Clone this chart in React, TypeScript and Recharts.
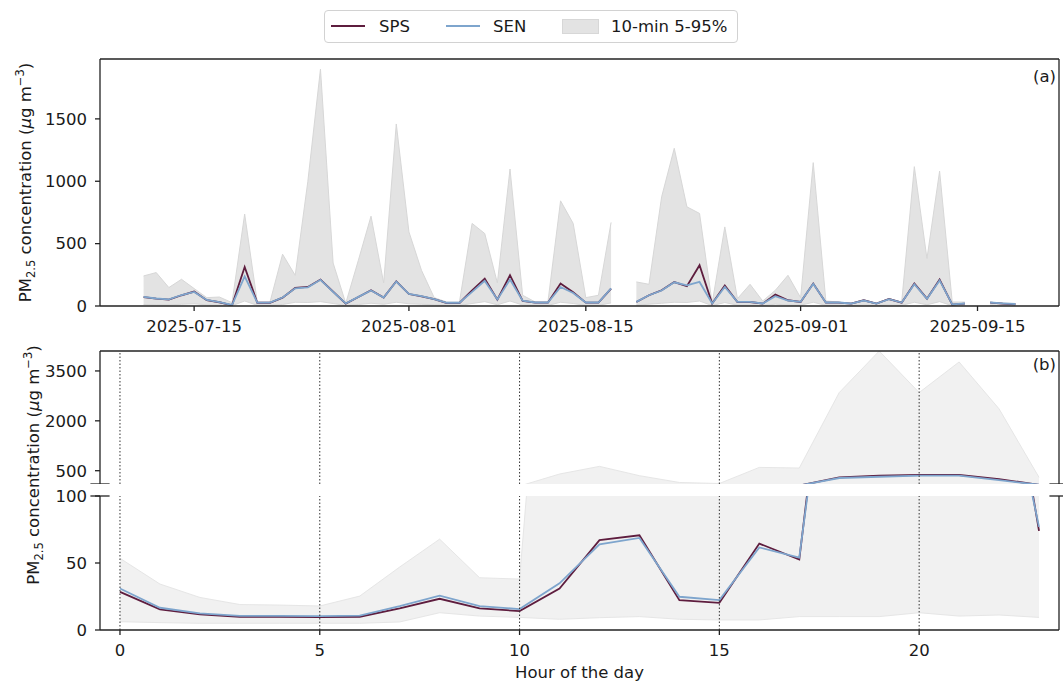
import React from "react";
import { Area, ComposedChart, Line, ReferenceLine, XAxis, YAxis } from "recharts";

// (a) daily means, 2025-07-11 .. 2025-09-18; null = no data that day
const DATES = [
  "2025-07-11", "2025-07-12", "2025-07-13", "2025-07-14", "2025-07-15", "2025-07-16", "2025-07-17",
  "2025-07-18", "2025-07-19", "2025-07-20", "2025-07-21", "2025-07-22", "2025-07-23", "2025-07-24",
  "2025-07-25", "2025-07-26", "2025-07-27", "2025-07-28", "2025-07-29", "2025-07-30", "2025-07-31",
  "2025-08-01", "2025-08-02", "2025-08-03", "2025-08-04", "2025-08-05", "2025-08-06", "2025-08-07",
  "2025-08-08", "2025-08-09", "2025-08-10", "2025-08-11", "2025-08-12", "2025-08-13", "2025-08-14",
  "2025-08-15", "2025-08-16", "2025-08-17", "2025-08-18", "2025-08-19", "2025-08-20", "2025-08-21",
  "2025-08-22", "2025-08-23", "2025-08-24", "2025-08-25", "2025-08-26", "2025-08-27", "2025-08-28",
  "2025-08-29", "2025-08-30", "2025-08-31", "2025-09-01", "2025-09-02", "2025-09-03", "2025-09-04",
  "2025-09-05", "2025-09-06", "2025-09-07", "2025-09-08", "2025-09-09", "2025-09-10", "2025-09-11",
  "2025-09-12", "2025-09-13", "2025-09-14", "2025-09-15", "2025-09-16", "2025-09-17", "2025-09-18",
];
const SPS_DAILY = [
  72, 59, 51, 86, 116, 46, 30, 6, 313, 26, 26, 67, 145, 153, 212, 115, 19, 72, 126, 67, 198,
  96, 78, 55, 24, 24, 126, 220, 51, 247, 40, 27, 27, 180, 110, 27, 27, 140, null, 32, 86, 126,
  192, 158, 327, 19, 164, 32, 32, 19, 92, 46,
  32, 180, 27, 27, 19, 46, 19, 56, 27, 180, 59, 212, 11, 19, null, 27, 19, 14,
];
const SEN_DAILY = [
  74, 60, 53, 88, 113, 48, 31, 8, 238, 27, 27, 68, 142, 150, 210, 114, 20, 73, 124, 68, 196,
  97, 80, 56, 26, 26, 113, 201, 53, 212, 42, 28, 28, 152, 104, 28, 28, 141, null, 33, 86, 124,
  190, 165, 193, 20, 153, 33, 33, 20, 78, 44,
  33, 178, 28, 28, 20, 44, 20, 55, 28, 175, 58, 205, 13, 20, null, 28, 21, 16,
];
const P05_DAILY = [
  12, 10, 9, 14, 18, 9, 6, 2, 40, 5, 5, 12, 30, 28, 35, 20, 4, 12, 22, 14, 30,
  18, 14, 10, 5, 5, 20, 35, 10, 40, 8, 5, 5, 30, 20, 5, 5, 25, null, 6, 15, 22,
  30, 28, 40, 3, 28, 6, 6, 3, 15, 8,
  6, 30, 5, 5, 3, 8, 3, 10, 5, 30, 10, 35, 2, 4, null, 5, 4, 3,
];
const P95_DAILY = [
  241, 268, 148, 214, 140, 67, 72, 27, 737, 30, 30, 415, 246, 1000, 1899, 345, 22, 367, 720, 185, 1459,
  594, 285, 67, 32, 32, 662, 581, 185, 1098, 86, 32, 32, 843, 662, 67, 86, 670, null, 193, 174, 875,
  1264, 795, 742, 22, 634, 59, 174, 40, 126, 246,
  67, 1149, 40, 32, 22, 50, 22, 60, 32, 1117, 380, 1082, 32, 32, null, 30, 24, 18,
];
const DATE_TICKS = ["2025-07-15", "2025-08-01", "2025-08-15", "2025-09-01", "2025-09-15"];
const DAILY_Y_TICKS = [0, 500, 1000, 1500];

// (b) mean diurnal cycle
const HOURS = [0, 1, 2, 3, 4, 5, 6, 7, 8, 9, 10, 11, 12, 13, 14, 15, 16, 17, 18, 19, 20, 21, 22, 23];
const SPS_HOURLY = [28.5, 15.4, 11.7, 9.9, 9.8, 9.7, 9.9, 16.1, 23.3, 16.1, 14.1, 31, 67, 70.7, 22.3, 20.3, 64.5, 52.6, 300, 349, 370, 370, 249, 74];
const SEN_HOURLY = [31, 16.6, 12.4, 10.6, 10.5, 10.3, 10.8, 17.8, 25.6, 17.8, 15.6, 34.8, 64, 68.7, 24.8, 22.3, 61.6, 54.1, 280, 318, 349, 349, 218, 77];
const P05_HOURLY = [6.2, 5.5, 5, 5, 5, 5, 5, 6, 12.9, 10.4, 9.4, 8, 9.2, 10, 8, 7.5, 7.5, 10, 10, 10, 12.9, 10.4, 11.2, 9.4];
const P95_HOURLY = [53.5, 34.3, 24.3, 19, 18.6, 17.9, 25.3, 47, 67.8, 39, 38, 400, 630, 350, 146, 115, 600, 580, 2850, 4100, 2850, 3770, 2360, 300];
const HOUR_TICKS = [0, 5, 10, 15, 20];
const UPPER_Y_TICKS = [500, 2000, 3500];
const LOWER_Y_TICKS = [0, 50, 100];

const SPS_COLOR = "#5e1d3e";
const SEN_COLOR = "#7ea5cd";
const INK = "#1a1a1a";
const FONT = "'DejaVu Sans', sans-serif";
const TICK = { fill: INK, fontSize: 16.5, fontFamily: FONT };
const SPINE = { stroke: "#222", strokeWidth: 1.3 };

const daily = DATES.map((d, i) => ({
  t: Date.parse(d),
  sps: SPS_DAILY[i],
  sen: SEN_DAILY[i],
  band: P05_DAILY[i] == null ? [null, null] : [P05_DAILY[i], P95_DAILY[i]],
}));
const hourly = HOURS.map((h, i) => ({
  h,
  sps: SPS_HOURLY[i],
  sen: SEN_HOURLY[i],
  band: [P05_HOURLY[i], P95_HOURLY[i]],
}));

// matplotlib-style 5% margins on the date axis
const T0 = Date.parse(DATES[0]);
const T1 = Date.parse(DATES[DATES.length - 1]);
const X_MIN = T0 - (T1 - T0) * 0.05;
const X_MAX = T1 + (T1 - T0) * 0.05;
const H_MIN = -0.5;
const H_MAX = 23.5;
const BREAK_W = 0.24; // half-width of the broken-axis marks, in hours

const fmtDate = (v: number) => new Date(v).toISOString().slice(0, 10);

function DailyPanel() {
  return (
    <ComposedChart width={1063} height={340} data={daily} margin={{ top: 59, right: 4, bottom: 0, left: 0 }}>
      <XAxis
        dataKey="t"
        type="number"
        domain={[X_MIN, X_MAX]}
        allowDataOverflow
        ticks={DATE_TICKS.map((d) => Date.parse(d))}
        interval={0}
        tickFormatter={fmtDate}
        tick={TICK}
        tickSize={5}
        tickMargin={9}
        tickLine={SPINE}
        axisLine={SPINE}
        height={34}
      />
      <YAxis
        type="number"
        domain={[0, 1980]}
        allowDataOverflow
        ticks={DAILY_Y_TICKS}
        interval={0}
        tick={TICK}
        tickSize={5}
        tickMargin={8}
        tickLine={SPINE}
        axisLine={SPINE}
        width={100}
      />
      <Area
        dataKey="band"
        type="linear"
        fill="#e3e3e3"
        fillOpacity={1}
        stroke="#d7d7d7"
        strokeWidth={1}
        dot={false}
        activeDot={false}
        isAnimationActive={false}
      />
      <Line dataKey="sps" type="linear" stroke={SPS_COLOR} strokeWidth={1.8} dot={false} isAnimationActive={false} />
      <Line dataKey="sen" type="linear" stroke={SEN_COLOR} strokeWidth={1.8} dot={false} isAnimationActive={false} />
      <ReferenceLine y={1980} stroke={SPINE.stroke} strokeWidth={SPINE.strokeWidth} ifOverflow="visible" />
      <ReferenceLine x={X_MAX} stroke={SPINE.stroke} strokeWidth={SPINE.strokeWidth} ifOverflow="visible" />
    </ComposedChart>
  );
}

// the diurnal panel is drawn twice, as a broken y axis: 100..4100 on top, 0..100 below
function HourlyPanel({ part }: { part: "upper" | "lower" }) {
  const upper = part === "upper";
  const yDomain = upper ? [100, 4100] : [0, 100];
  const breakY = 100;
  return (
    <ComposedChart
      width={1063}
      height={upper ? 144 : 204}
      data={hourly}
      margin={{ top: upper ? 11 : 16, right: 4, bottom: 0, left: 0 }}
    >
      <XAxis
        dataKey="h"
        type="number"
        domain={[H_MIN, H_MAX]}
        allowDataOverflow
        ticks={HOUR_TICKS}
        interval={0}
        hide={upper}
        tick={TICK}
        tickSize={5}
        tickMargin={9}
        tickLine={SPINE}
        axisLine={SPINE}
        height={54}
        label={
          upper
            ? undefined
            : { value: "Hour of the day", position: "insideBottom", offset: 6, fill: INK, fontSize: 16.5, fontFamily: FONT }
        }
      />
      <YAxis
        type="number"
        domain={yDomain}
        allowDataOverflow
        ticks={upper ? UPPER_Y_TICKS : LOWER_Y_TICKS}
        interval={0}
        tick={TICK}
        tickSize={5}
        tickMargin={8}
        tickLine={SPINE}
        axisLine={SPINE}
        width={100}
      />
      <Area
        dataKey="band"
        type="linear"
        fill="#f1f1f1"
        fillOpacity={1}
        stroke="#e6e6e6"
        strokeWidth={1}
        dot={false}
        activeDot={false}
        isAnimationActive={false}
      />
      <Line dataKey="sps" type="linear" stroke={SPS_COLOR} strokeWidth={1.8} dot={false} isAnimationActive={false} />
      <Line dataKey="sen" type="linear" stroke={SEN_COLOR} strokeWidth={1.8} dot={false} isAnimationActive={false} />
      {HOUR_TICKS.map((h) => (
        <ReferenceLine key={h} x={h} stroke="#333" strokeWidth={1} strokeDasharray="1.5 2" />
      ))}
      {upper && (
        <ReferenceLine y={4100} stroke={SPINE.stroke} strokeWidth={SPINE.strokeWidth} ifOverflow="visible" />
      )}
      <ReferenceLine x={H_MAX} stroke={SPINE.stroke} strokeWidth={SPINE.strokeWidth} ifOverflow="visible" />
      <ReferenceLine
        segment={[{ x: H_MIN - BREAK_W, y: breakY }, { x: H_MIN + BREAK_W, y: breakY }]}
        stroke={SPINE.stroke}
        strokeWidth={SPINE.strokeWidth}
        ifOverflow="visible"
      />
      <ReferenceLine
        segment={[{ x: H_MAX - BREAK_W, y: breakY }, { x: H_MAX + BREAK_W, y: breakY }]}
        stroke={SPINE.stroke}
        strokeWidth={SPINE.strokeWidth}
        ifOverflow="visible"
      />
    </ComposedChart>
  );
}

function YLabel({ x, y }: { x: number; y: number }) {
  return (
    <text
      transform={`translate(${x},${y}) rotate(-90)`}
      textAnchor="middle"
      fontSize={16.5}
      fontFamily={FONT}
      fill={INK}
    >
      PM<tspan dy={4} fontSize={11.5}>2.5</tspan>
      <tspan dy={-4}> concentration (</tspan>
      <tspan fontStyle="italic">μ</tspan>g m<tspan dy={-7} fontSize={11.5}>−3</tspan>
      <tspan dy={7}>)</tspan>
    </text>
  );
}

const LEGEND = [
  { label: "SPS", kind: "line", color: SPS_COLOR, x: 6, tx: 54 },
  { label: "SEN", kind: "line", color: SEN_COLOR, x: 121, tx: 168 },
  { label: "10-min 5-95%", kind: "patch", color: "#e3e3e3", x: 237, tx: 286 },
];

function LegendBox() {
  return (
    <div
      style={{
        position: "absolute",
        left: 324,
        top: 10,
        width: 412,
        height: 31,
        border: "1px solid #d2d2d2",
        borderRadius: 4,
        background: "#fff",
        fontFamily: FONT,
        fontSize: 16.5,
        color: INK,
      }}
    >
      {LEGEND.map((it) => (
        <React.Fragment key={it.label}>
          {it.kind === "line" ? (
            <div
              style={{ position: "absolute", left: it.x, top: 14, width: 34, height: 0, borderTop: `2px solid ${it.color}` }}
            />
          ) : (
            <div
              style={{ position: "absolute", left: it.x, top: 8, width: 35, height: 13, background: it.color, border: "1px solid #d7d7d7" }}
            />
          )}
          <div style={{ position: "absolute", left: it.tx, top: 0, height: 31, lineHeight: "31px", whiteSpace: "nowrap" }}>
            {it.label}
          </div>
        </React.Fragment>
      ))}
    </div>
  );
}

export default function App() {
  return (
    <div style={{ position: "absolute", left: 0, top: 0, width: 1063, height: 684, background: "#fff", overflow: "hidden" }}>
      <div style={{ position: "absolute", left: 0, top: 0 }}>
        <DailyPanel />
      </div>
      <div style={{ position: "absolute", left: 0, top: 340 }}>
        <HourlyPanel part="upper" />
      </div>
      <div style={{ position: "absolute", left: 0, top: 480 }}>
        <HourlyPanel part="lower" />
      </div>
      <svg width={1063} height={684} style={{ position: "absolute", left: 0, top: 0, pointerEvents: "none" }}>
        <YLabel x={31} y={182.5} />
        <YLabel x={38.5} y={465} />
        <text x={1056} y={81.5} textAnchor="end" fontSize={16.5} fontFamily={FONT} fill={INK}>
          (a)
        </text>
        <text x={1056} y={370} textAnchor="end" fontSize={16.5} fontFamily={FONT} fill={INK}>
          (b)
        </text>
      </svg>
      <LegendBox />
    </div>
  );
}
